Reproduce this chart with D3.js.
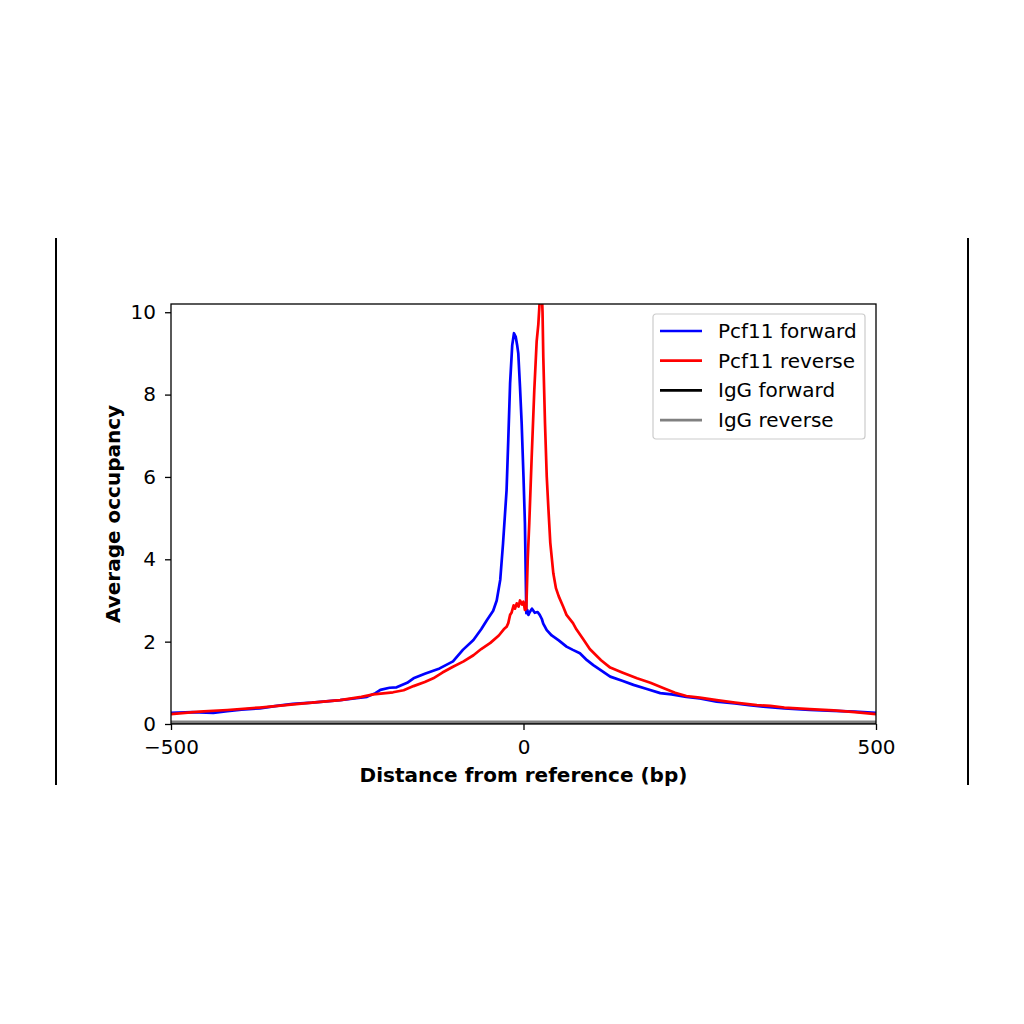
<!DOCTYPE html>
<html>
<head>
<meta charset="utf-8">
<script src="https://cdn.jsdelivr.net/npm/d3@7/dist/d3.min.js"></script>
<style>
  html, body { margin: 0; padding: 0; background: #fff; }
  svg { display: block; }
  text { font-family: "DejaVu Sans", sans-serif; fill: #000; }
</style>
</head>
<body>
<svg id="chart" width="1024" height="1024"></svg>
<script>
// ---- Data ----
const xTicks = [-500, 0, 500];
const yTicks = [0, 2, 4, 6, 8, 10];

const seriesNames = ["Pcf11 forward", "Pcf11 reverse", "IgG forward", "IgG reverse"];
const seriesColors = ["#0000ff", "#ff0000", "#000000", "#808080"];

const fwdX = [-500, -470, -440, -420, -400, -374, -350, -327, -300, -260, -240, -222, -210, -203, -190, -180, -165, -156, -140, -119, -100, -86, -71, -60, -52, -43, -38, -33, -29, -24, -21.6, -19, -16, -13.5, -11, -9, -7.4, -5, -2.6, 0, 2, 3, 4, 5.4, 7, 9, 12, 16, 20, 23, 26, 28, 33, 40, 50, 61, 70, 80, 90, 99, 110, 123, 140, 156, 175, 194, 210, 231, 250, 274, 300, 320, 340, 370, 406, 440, 470, 500];
const fwdY = [0.27, 0.29, 0.27, 0.31, 0.35, 0.38, 0.44, 0.49, 0.52, 0.58, 0.62, 0.66, 0.75, 0.83, 0.88, 0.89, 1.0, 1.11, 1.22, 1.35, 1.52, 1.8, 2.04, 2.3, 2.52, 2.75, 3.0, 3.5, 4.39, 5.68, 6.9, 8.28, 9.2, 9.49, 9.4, 9.2, 9.0, 8.2, 7.3, 6.0, 4.88, 3.8, 2.69, 2.77, 2.65, 2.72, 2.8, 2.7, 2.72, 2.65, 2.55, 2.44, 2.28, 2.15, 2.03, 1.88, 1.8, 1.72, 1.55, 1.43, 1.3, 1.15, 1.05, 0.95, 0.85, 0.75, 0.72, 0.66, 0.62, 0.54, 0.5, 0.46, 0.42, 0.38, 0.34, 0.32, 0.3, 0.27];

const revX = [-500, -460, -420, -374, -330, -300, -260, -230, -213, -185, -170, -156, -140, -128, -115, -100, -85, -71, -60, -47, -35, -28, -24, -21.6, -19, -17, -14, -12, -9.6, -7, -5, -2, 0, 2, 4, 6, 8.2, 11.6, 15.3, 18.7, 21, 22.4, 24, 26, 27, 28.1, 30.5, 33, 35.2, 38, 42.3, 46, 50, 56.5, 61, 70.2, 75, 85, 94, 110, 123, 140, 161, 180, 199, 215, 231, 250, 274, 300, 331, 350, 370, 406, 440, 470, 500];
const revY = [0.24, 0.3, 0.34, 0.4, 0.47, 0.52, 0.58, 0.66, 0.72, 0.77, 0.82, 0.92, 1.02, 1.11, 1.25, 1.39, 1.52, 1.67, 1.82, 1.97, 2.15, 2.3, 2.36, 2.45, 2.65, 2.7, 2.88, 2.8, 2.93, 2.85, 3.0, 2.9, 2.97, 2.77, 2.8, 4.0, 4.88, 6.48, 8.1, 9.3, 9.7, 10.1, 10.6, 10.5, 10.0, 8.9, 7.3, 6.0, 5.27, 4.4, 3.66, 3.3, 3.1, 2.84, 2.65, 2.45, 2.3, 2.05, 1.82, 1.55, 1.37, 1.25, 1.11, 1.0, 0.87, 0.76, 0.68, 0.64, 0.58, 0.52, 0.46, 0.44, 0.4, 0.36, 0.33, 0.29, 0.24];

const iggX = [-500, -250, 0, 250, 500];
const iggFwdY = [0.04, 0.04, 0.04, 0.04, 0.04];
const iggRevY = [0.05, 0.05, 0.05, 0.05, 0.05];

// ---- Layout ----
const FS = 20;
const svg = d3.select("#chart");
const plot = { left: 171, right: 876, top: 304, bottom: 724 };

const x = d3.scaleLinear().domain([-500, 500]).range([plot.left, plot.right]);
const y = d3.scaleLinear().domain([0, 10.2]).range([plot.bottom, plot.top]);

// outer vertical rules
svg.append("line").attr("x1", 56).attr("x2", 56).attr("y1", 238).attr("y2", 785)
  .attr("stroke", "#000").attr("stroke-width", 2);
svg.append("line").attr("x1", 968).attr("x2", 968).attr("y1", 238).attr("y2", 785)
  .attr("stroke", "#000").attr("stroke-width", 2);

svg.append("defs").append("clipPath").attr("id", "clip")
  .append("rect").attr("x", plot.left).attr("y", plot.top)
  .attr("width", plot.right - plot.left).attr("height", plot.bottom - plot.top);

const line = d3.line().x(d => x(d[0])).y(d => y(d[1]));
const zip = (a, b) => a.map((v, i) => [v, b[i]]);

const series = [
  { name: seriesNames[0], color: seriesColors[0], pts: zip(fwdX, fwdY) },
  { name: seriesNames[1], color: seriesColors[1], pts: zip(revX, revY) },
  { name: seriesNames[2], color: seriesColors[2], pts: zip(iggX, iggFwdY) },
  { name: seriesNames[3], color: seriesColors[3], pts: zip(iggX, iggRevY) }
];

const g = svg.append("g").attr("clip-path", "url(#clip)");
series.forEach(s => {
  g.append("path").attr("d", line(s.pts)).attr("fill", "none")
    .attr("stroke", s.color).attr("stroke-width", 2.7)
    .attr("stroke-linejoin", "round").attr("stroke-linecap", "butt");
});

// axes
const xAxis = d3.axisBottom(x).tickValues(xTicks).tickSize(6).tickPadding(10)
  .tickFormat(d => d < 0 ? "\u2212" + Math.abs(d) : String(d));
const yAxis = d3.axisLeft(y).tickValues(yTicks).tickSize(6).tickPadding(9);

const gx = svg.append("g").attr("transform", `translate(0,${plot.bottom})`).call(xAxis);
const gy = svg.append("g").attr("transform", `translate(${plot.left},0)`).call(yAxis);
[gx, gy].forEach(ax => {
  ax.select(".domain").remove();
  ax.selectAll("line").attr("stroke", "#000").attr("stroke-width", 1.3);
  ax.selectAll("text").attr("font-size", FS).attr("font-family", "DejaVu Sans, sans-serif").attr("fill", "#000");
});

// frame
svg.append("rect").attr("x", plot.left).attr("y", plot.top)
  .attr("width", plot.right - plot.left).attr("height", plot.bottom - plot.top)
  .attr("fill", "none").attr("stroke", "#000").attr("stroke-width", 1.3);

// axis labels
svg.append("text").attr("x", (plot.left + plot.right) / 2).attr("y", 782)
  .attr("text-anchor", "middle").attr("font-size", FS).attr("font-weight", "bold")
  .text("Distance from reference (bp)");
svg.append("text").attr("transform", `translate(120,${(plot.top + plot.bottom) / 2}) rotate(-90)`)
  .attr("text-anchor", "middle").attr("font-size", FS).attr("font-weight", "bold")
  .text("Average occupancy");

// legend
const lg = svg.append("g").attr("transform", "translate(653,314)");
lg.append("rect").attr("x", 0).attr("y", 0).attr("width", 212).attr("height", 125)
  .attr("rx", 3).attr("fill", "#fff").attr("fill-opacity", 0.8)
  .attr("stroke", "#cccccc").attr("stroke-width", 1.2);
series.forEach((s, i) => {
  const yy = 17 + i * 29.7;
  lg.append("line").attr("x1", 7).attr("x2", 49).attr("y1", yy).attr("y2", yy)
    .attr("stroke", s.color).attr("stroke-width", 2.7);
  lg.append("text").attr("x", 65).attr("y", yy).attr("dy", "0.35em")
    .attr("font-size", FS).text(s.name);
});
</script>
</body>
</html>
